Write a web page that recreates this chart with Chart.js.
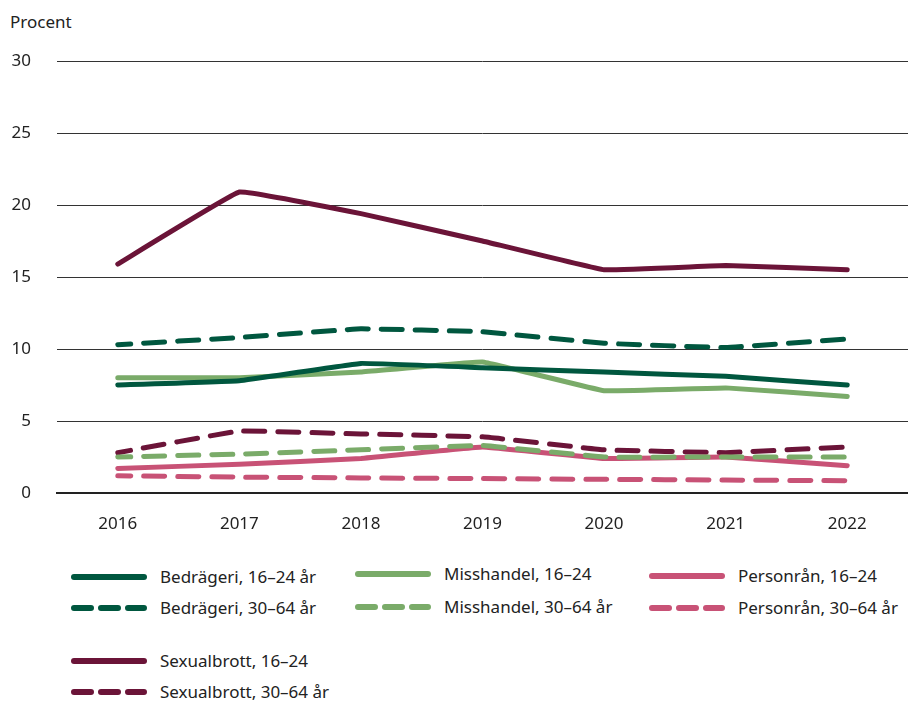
<!DOCTYPE html>
<html lang="sv">
<head>
<meta charset="utf-8">
<script src="https://cdn.jsdelivr.net/npm/chart.js@4"></script>
<style>
    body { margin: 0; background: #fff; font-family: "Noto Sans", sans-serif; color: #222; }
    #wrap { position: relative; width: 908px; height: 702px; }
    #chart { position: absolute; left: 0; top: 0; }
    .axis-title { position: absolute; left: 10px; top: 10px; font-size: 17px; }
    .legend-item { position: absolute; font-size: 17px; display: flex; align-items: center; white-space: nowrap; }
    .legend-item svg { margin-right: 12px; }
</style>
</head>
<body>
<div id="wrap">
    <div class="axis-title">Procent</div>
    <canvas id="chart" width="908" height="545"></canvas>
    <div id="legend"></div>
</div>
<script>
// Data
const years = ['2016', '2017', '2018', '2019', '2020', '2021', '2022'];
const yTicks = [0, 5, 10, 15, 20, 25, 30];

const bedrageriUng = [7.5, 7.8, 9.0, 8.7, 8.4, 8.1, 7.5];
const bedrageriVuxen = [10.3, 10.8, 11.4, 11.2, 10.4, 10.1, 10.7];
const misshandelUng = [8.0, 8.0, 8.4, 9.1, 7.1, 7.3, 6.7];
const misshandelVuxen = [2.5, 2.7, 3.0, 3.3, 2.5, 2.5, 2.5];
const personranUng = [1.7, 2.0, 2.4, 3.2, 2.4, 2.5, 1.9];
const personranVuxen = [1.2, 1.1, 1.05, 1.0, 0.95, 0.9, 0.85];
const sexualbrottUng = [15.9, 20.9, 19.4, 17.5, 15.5, 15.8, 15.5];
const sexualbrottVuxen = [2.8, 4.3, 4.1, 3.9, 3.0, 2.8, 3.2];

const DARK_GREEN = '#00573f';
const LIGHT_GREEN = '#7aab69';
const PINK = '#c85276';
const MAROON = '#6b1438';
const DASH = [21, 13];

// label, data, colour, dashed, legend position
const series = [
    { label: 'Bedrägeri, 16–24 år', data: bedrageriUng, color: DARK_GREEN, dashed: false, x: 70, y: 565 },
    { label: 'Bedrägeri, 30–64 år', data: bedrageriVuxen, color: DARK_GREEN, dashed: true, x: 70, y: 596 },
    { label: 'Misshandel, 16–24', data: misshandelUng, color: LIGHT_GREEN, dashed: false, x: 354, y: 562 },
    { label: 'Misshandel, 30–64 år', data: misshandelVuxen, color: LIGHT_GREEN, dashed: true, x: 354, y: 595 },
    { label: 'Personrån, 16–24', data: personranUng, color: PINK, dashed: false, x: 648, y: 564 },
    { label: 'Personrån, 30–64 år', data: personranVuxen, color: PINK, dashed: true, x: 648, y: 596 },
    { label: 'Sexualbrott, 16–24', data: sexualbrottUng, color: MAROON, dashed: false, x: 70, y: 649 },
    { label: 'Sexualbrott, 30–64 år', data: sexualbrottVuxen, color: MAROON, dashed: true, x: 70, y: 680 }
];

document.addEventListener('DOMContentLoaded', () => {
    createChart();
    buildLegend();
});

function createChart() {
    const ctx = document.getElementById('chart').getContext('2d');
    new Chart(ctx, {
        type: 'line',
        data: {
            labels: years,
            datasets: series.map(s => ({
                label: s.label,
                data: s.data,
                borderColor: s.color,
                backgroundColor: s.color,
                borderWidth: 5,
                borderDash: s.dashed ? DASH : [],
                borderDashOffset: 8,
                borderCapStyle: 'round',
                borderJoinStyle: 'round',
                pointRadius: 0,
                tension: 0.06,
                fill: false
            }))
        },
        options: {
            responsive: false,
            animation: false,
            layout: { padding: { top: 61, right: 0, left: 0, bottom: 0 } },
            plugins: {
                legend: { display: false },
                tooltip: { enabled: false }
            },
            scales: {
                x: {
                    offset: true,
                    grid: { display: false },
                    border: { display: true, color: '#222', width: 2 },
                    ticks: {
                        color: '#222',
                        padding: 13,
                        font: { family: 'Noto Sans', size: 17 }
                    },
                    afterFit: (scale) => { scale.height = 52; }
                },
                y: {
                    min: 0,
                    max: 30,
                    afterBuildTicks: (scale) => { scale.ticks = yTicks.map(v => ({ value: v })); },
                    grid: {
                        color: '#333',
                        lineWidth: (c) => c.tick && c.tick.value === 0 ? 0 : 1,
                        drawTicks: false
                    },
                    border: { display: false },
                    ticks: {
                        color: '#222',
                        padding: 26,
                        font: { family: 'Noto Sans', size: 17 }
                    },
                    afterFit: (scale) => { scale.width = 57; }
                }
            }
        }
    });
}

function buildLegend() {
    const legend = document.getElementById('legend');
    series.forEach(s => {
        const item = document.createElement('div');
        item.className = 'legend-item';
        item.style.left = s.x + 'px';
        item.style.top = s.y + 'px';
        const dash = s.dashed ? 'stroke-dasharray="17 10"' : '';
        item.innerHTML =
            `<svg width="78" height="8"><line x1="4" y1="4" x2="74" y2="4" stroke="${s.color}" stroke-width="6" stroke-linecap="round" ${dash}/></svg>` +
            `<span>${s.label}</span>`;
        legend.appendChild(item);
    });
}
</script>
</body>
</html>
